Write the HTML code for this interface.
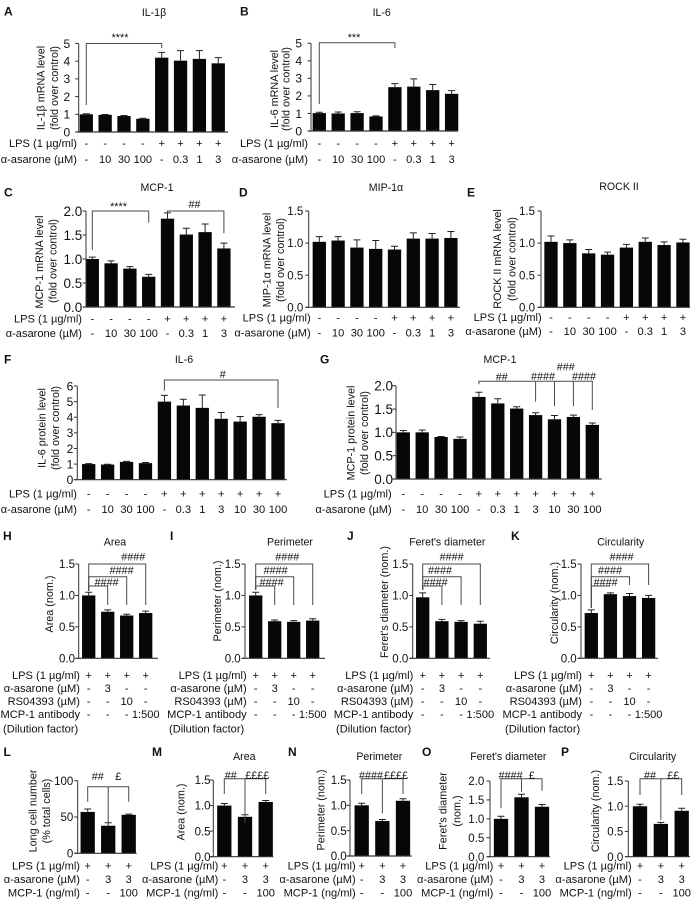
<!DOCTYPE html>
<html lang="en">
<head>
<meta charset="utf-8">
<title>Figure panels</title>
<style>
html,body{margin:0;padding:0;background:#fff;}
svg{display:block;font-family:"Liberation Sans",sans-serif;filter:blur(0.35px);}
text{fill:#111;}
</style>
</head>
<body>
<svg id="figure" width="695" height="902" viewBox="0 0 695 902" xmlns="http://www.w3.org/2000/svg"></svg>
<script>
// Category rows
const lps8 = ['-','-','-','-','+','+','+','+'];
const asarone8 = ['-','10','30','100','-','0.3','1','3'];
const lps11 = ['-','-','-','-','+','+','+','+','+','+','+'];
const asarone11 = ['-','10','30','100','-','0.3','1','3','10','30','100'];
const lps4 = ['+','+','+','+'];
const asarone4 = ['-','3','-','-'];
const rs4 = ['-','-','10','-'];
const antibody4 = ['-','-','-','1:500'];
const lps3 = ['+','+','+'];
const asarone3 = ['-','3','3'];
const mcp3 = ['-','-','100'];

// Tick values and labels
const ticks5 = [0,1,2,3,4,5];
const ticks6 = [0,1,2,3,4,5,6];
const ticks100 = [0,50,100];
const ticks15 = [0,0.5,1,1.5];
const ticks20 = [0,0.5,1,1.5,2];
const labels5 = ['0','1','2','3','4','5'];
const labels6 = ['0','1','2','3','4','5','6'];
const labels100 = ['0','50','100'];
const labels15 = ['0.0','0.5','1.0','1.5'];
const labels20 = ['0.0','0.5','1.0','1.5','2.0'];

// Series values and errors
const aValues = [1.0,0.97,0.9,0.75,4.2,4.03,4.13,3.88];
const aErrors = [0.03,0.02,0.03,0.03,0.3,0.57,0.47,0.32];
const bValues = [1.02,1.0,1.02,0.83,2.5,2.53,2.33,2.12];
const bErrors = [0.05,0.08,0.08,0.03,0.2,0.44,0.32,0.18];
const cValues = [1.0,0.91,0.8,0.63,1.84,1.51,1.56,1.22];
const cErrors = [0.04,0.05,0.04,0.05,0.12,0.13,0.17,0.11];
const dValues = [1.02,1.04,0.93,0.91,0.9,1.07,1.07,1.08];
const dErrors = [0.08,0.06,0.12,0.13,0.05,0.09,0.08,0.1];
const eValues = [1.02,1.0,0.84,0.82,0.93,1.02,0.97,1.01];
const eErrors = [0.09,0.05,0.06,0.04,0.05,0.06,0.05,0.05];
const fValues = [1.0,0.97,1.14,1.06,5.0,4.75,4.6,3.9,3.72,4.03,3.62];
const fErrors = [0.03,0.02,0.03,0.04,0.4,0.4,0.82,0.4,0.33,0.14,0.18];
const gValues = [1.0,1.0,0.9,0.86,1.76,1.62,1.51,1.37,1.28,1.33,1.16];
const gErrors = [0.04,0.05,0.01,0.04,0.1,0.1,0.04,0.05,0.08,0.04,0.04];
const hValues = [1.0,0.74,0.68,0.72];
const hErrors = [0.05,0.03,0.02,0.03];
const iValues = [1.0,0.59,0.58,0.6];
const iErrors = [0.05,0.02,0.02,0.03];
const jValues = [0.97,0.59,0.58,0.55];
const jErrors = [0.07,0.03,0.02,0.04];
const kValues = [0.72,1.02,0.99,0.96];
const kErrors = [0.05,0.02,0.04,0.04];
const lValues = [57,38,53];
const lErrors = [4,4,1];
const mValues = [1.0,0.78,1.07];
const mErrors = [0.04,0.04,0.03];
const nValues = [1.0,0.69,1.09];
const nErrors = [0.04,0.03,0.04];
const oValues = [1.0,1.57,1.32];
const oErrors = [0.07,0.08,0.06];
const pValues = [1.0,0.65,0.91];
const pErrors = [0.04,0.03,0.05];

const NS = 'http://www.w3.org/2000/svg';
const root = document.getElementById('figure');

function mk(tag, parent, attrs) {
  const el = document.createElementNS(NS, tag);
  for (const k in attrs) el.setAttribute(k, attrs[k]);
  parent.appendChild(el);
  return el;
}
function txt(parent, x, cy, str, anchor, size, weight) {
  const el = mk('text', parent, {x: x, y: cy + size * 0.36, 'text-anchor': anchor, 'font-size': size});
  if (weight) el.setAttribute('font-weight', weight);
  el.textContent = str;
  return el;
}
function vtxt(parent, cx, cy, str, size) {
  const el = mk('text', parent, {x: 0, y: 0, 'text-anchor': 'middle', 'font-size': size, transform: 'translate(' + (cx + size * 0.36) + ' ' + cy + ') rotate(-90)'});
  el.textContent = str;
  return el;
}
function line(parent, x1, y1, x2, y2, color, w) {
  return mk('line', parent, {x1: x1, y1: y1, x2: x2, y2: y2, stroke: color, 'stroke-width': w});
}

function panel(c) {
  const g = mk('g', root, {});
  
  

  const yScale = v => c.yBase - (v / c.yMax) * (c.yBase - c.yTop);
  const xScale = i => c.c0 + i * c.pitch;
  const barW = c.barW || 13.3;
  const tickSize = c.tickSize || 12;
  const tickGap = c.tickGap || 4.5;

  const letter = txt(g, c.lx, c.ly, c.id, 'start', 12, 'bold');
  
  

  if (c.title) {
    const title = txt(g, c.tx, c.ty, c.title, 'middle', 10.6);
    
    
  }

  c.yTitle.forEach(function (t) {
    const yt = vtxt(g, t.x, t.y, t.s, 10.8);
    
    
  });

  c.values.forEach(function (v, i) {
    const bar = mk('rect', g, {x: xScale(i) - barW / 2, y: yScale(v), width: barW, height: c.yBase - yScale(v), fill: '#070707'});
    
    
    const top = yScale(v + c.errors[i]);
    const eb = mk('path', g, {d: 'M' + xScale(i) + ' ' + yScale(v) + 'V' + top + 'M' + (xScale(i) - 3.5) + ' ' + top + 'H' + (xScale(i) + 3.5), stroke: '#222', 'stroke-width': 1, fill: 'none'});
    
    
  });

  const yAxis = line(g, c.x0, c.yTop, c.x0, c.yBase, '#333', 1);
  
  
  const xAxis = line(g, c.x0 - 3, c.yBase, c.xEnd, c.yBase, '#333', 1.2);
  
  

  c.ticks.forEach(function (t, i) {
    const tm = line(g, c.x0 - 3.5, yScale(t), c.x0, yScale(t), '#333', 1);
    
    
    const tl = txt(g, c.x0 - tickGap, yScale(t), c.tickLabels[i], 'end', tickSize);
    
    
  });

  c.rows.forEach(function (r) {
    const rl = txt(g, c.rowX, r.y, r.label, 'end', 11.1);
    
    
    r.vals.forEach(function (s, i) {
      const rv = txt(g, xScale(i), r.y, s, 'middle', 11.1);
      
      
    });
  });
  if (c.note) {
    const nt = txt(g, c.note.x, c.note.y, c.note.s, 'start', 11.1);
    
    
  }

  (c.brackets || []).forEach(function (b) {
    const xa = xScale(b.a), xb = xScale(b.b);
    let d = 'M' + xa + ' ' + b.ya + 'V' + b.y + 'H' + xb;
    if (b.yb) d += 'V' + b.yb;
    (b.drops || []).forEach(function (dr) {
      d += 'M' + xScale(dr.i) + ' ' + b.y + 'V' + dr.y;
    });
    const br = mk('path', g, {d: d, fill: 'none', stroke: '#4a4a4a', 'stroke-width': 1});
    
    
  });

  (c.sig || []).forEach(function (s) {
    const st = txt(g, s.x, s.y, s.s, 'middle', 10.8);
    
    
  });
}

const L8 = 'LPS (1 µg/ml)';
const AS = 'α-asarone (µM)';

panel({id:'A',title:'IL-1β',tx:154,ty:12,lx:4,ly:11,x0:78.7,xEnd:228,yTop:43.5,yBase:132,c0:86.3,pitch:18.85,yMax:5,tickSize:12,tickGap:8.5,
  values:aValues,errors:aErrors,ticks:ticks5,tickLabels:labels5,rowX:77,
  yTitle:[{s:'IL-1β mRNA level',x:40.7,y:88},{s:'(fold over control)',x:54,y:88}],
  rows:[{label:L8,vals:lps8,y:143},{label:AS,vals:asarone8,y:159}],
  brackets:[{a:0,b:4,y:43.5,ya:105,yb:48}],sig:[{s:'****',x:120,y:37}]});

panel({id:'B',title:'IL-6',tx:381.7,ty:12,lx:240,ly:11,x0:311,xEnd:458,yTop:43.3,yBase:131,c0:319.3,pitch:18.9,yMax:5,tickSize:12,tickGap:9,
  values:bValues,errors:bErrors,ticks:ticks5,tickLabels:labels5,rowX:308,
  yTitle:[{s:'IL-6 mRNA level',x:274,y:89},{s:'(fold over control)',x:285.7,y:89}],
  rows:[{label:L8,vals:lps8,y:143},{label:AS,vals:asarone8,y:159}],
  brackets:[{a:0,b:4,y:42.7,ya:104,yb:48}],sig:[{s:'***',x:354,y:37}]});

panel({id:'C',title:'MCP-1',tx:157,ty:187,lx:4,ly:192,x0:86,xEnd:235,yTop:211,yBase:307,c0:92.3,pitch:18.8,yMax:2,tickSize:13.5,tickGap:3.7,
  values:cValues,errors:cErrors,ticks:ticks20,tickLabels:labels20,rowX:82,
  yTitle:[{s:'MCP-1 mRNA level',x:39.3,y:262},{s:'(fold over control)',x:52.7,y:261}],
  rows:[{label:L8,vals:lps8,y:318.7},{label:AS,vals:asarone8,y:333}],
  brackets:[{a:0,b:3,y:211,ya:250,yb:222.7},{a:4,b:7,y:211,ya:212.3,yb:233.3}],
  sig:[{s:'****',x:118.5,y:206},{s:'##',x:194.5,y:204}]});

panel({id:'D',title:'MIP-1α',tx:386,ty:187,lx:239,ly:192,x0:308.7,xEnd:460,yTop:211,yBase:307.3,c0:319.3,pitch:18.8,yMax:1.5,tickSize:11.5,tickGap:5.4,
  values:dValues,errors:dErrors,ticks:ticks15,tickLabels:labels15,rowX:310.7,
  yTitle:[{s:'MIP-1α mRNA level',x:266.7,y:260},{s:'(fold over control)',x:280,y:260}],
  rows:[{label:L8,vals:lps8,y:317.7},{label:AS,vals:asarone8,y:332.7}]});

panel({id:'E',title:'ROCK II',tx:619,ty:186,lx:467,ly:192,x0:541,xEnd:690,yTop:211,yBase:307.3,c0:551,pitch:18.85,yMax:1.5,tickSize:11.5,tickGap:6,
  values:eValues,errors:eErrors,ticks:ticks15,tickLabels:labels15,rowX:541.7,
  yTitle:[{s:'ROCK II mRNA level',x:497.3,y:259},{s:'(fold over control)',x:511.7,y:259}],
  rows:[{label:L8,vals:lps8,y:317},{label:AS,vals:asarone8,y:331}]});

panel({id:'F',title:'IL-6',tx:184,ty:359,lx:4,ly:359,x0:77.3,xEnd:287,yTop:386,yBase:479.7,c0:88.7,pitch:18.93,yMax:6,tickSize:12,tickGap:4,
  values:fValues,errors:fErrors,ticks:ticks6,tickLabels:labels6,rowX:77,
  yTitle:[{s:'IL-6 protein level',x:41.7,y:428},{s:'(fold over control)',x:55,y:428}],
  rows:[{label:L8,vals:lps11,y:493.7},{label:AS,vals:asarone11,y:509}],
  brackets:[{a:4,b:10,y:380,ya:390.7,yb:408}],sig:[{s:'#',x:222.7,y:374}]});

panel({id:'G',title:'MCP-1',tx:500,ty:359,lx:320,ly:359,x0:396,xEnd:601.7,yTop:385.7,yBase:479,c0:403.3,pitch:18.9,yMax:2,tickSize:13.5,tickGap:3,
  values:gValues,errors:gErrors,ticks:ticks20,tickLabels:labels20,rowX:391.7,
  yTitle:[{s:'MCP-1 protein level',x:350.7,y:433},{s:'(fold over control)',x:364.3,y:433}],
  rows:[{label:L8,vals:lps11,y:493.7},{label:AS,vals:asarone11,y:509}],
  brackets:[{a:4,b:10,y:381.3,ya:384.3,yb:410,drops:[{i:7,y:401.7},{i:8,y:406},{i:9,y:406}]}],
  sig:[{s:'##',x:501.7,y:376.5},{s:'####',x:543,y:376},{s:'###',x:565.7,y:366.7},{s:'####',x:584,y:376}]});

const ROWS4 = () => [{label:L8,vals:lps4,y:675},{label:AS,vals:asarone4,y:688},{label:'RS04393 (µM)',vals:rs4,y:701},{label:'MCP-1 antibody',vals:antibody4,y:714}];

panel({id:'H',title:'Area',tx:115,ty:541.7,lx:3,ly:535.7,x0:78.7,xEnd:158,yTop:564,yBase:658.3,c0:88.7,pitch:19,yMax:1.5,tickSize:11.5,tickGap:3.7,
  values:hValues,errors:hErrors,ticks:ticks15,tickLabels:labels15,rowX:80,
  yTitle:[{s:'Area (nom.)',x:49.3,y:604}],rows:ROWS4(),note:{s:'(Dilution factor)',x:3,y:728.7},
  brackets:[{a:0,b:3,y:564,ya:591,yb:605},{a:0,b:2,y:576.7,ya:591,yb:605},{a:0,b:1,y:586,ya:591,yb:605}],
  sig:[{s:'####',x:133.3,y:556.7},{s:'####',x:121.7,y:570},{s:'####',x:106.7,y:582.3}]});

panel({id:'I',title:'Perimeter',tx:290,ty:541.7,lx:170,ly:535.7,x0:245,xEnd:325,yTop:564,yBase:658.3,c0:255.7,pitch:19,yMax:1.5,tickSize:11.5,tickGap:4.3,
  values:iValues,errors:iErrors,ticks:ticks15,tickLabels:labels15,rowX:246.7,
  yTitle:[{s:'Perimeter (nom.)',x:217.3,y:601}],rows:ROWS4(),note:{s:'(Dilution factor)',x:169,y:728.7},
  brackets:[{a:0,b:3,y:564,ya:590,yb:605},{a:0,b:2,y:576.7,ya:590,yb:605},{a:0,b:1,y:586,ya:590,yb:605}],
  sig:[{s:'####',x:287.3,y:556.7},{s:'####',x:275.7,y:570},{s:'####',x:271.7,y:582.3}]});

panel({id:'J',title:"Feret's diameter",tx:447.3,ty:541.7,lx:347,ly:535.7,x0:412.7,xEnd:490,yTop:564,yBase:658.3,c0:422.7,pitch:19.2,yMax:1.5,tickSize:11.5,tickGap:4.4,
  values:jValues,errors:jErrors,ticks:ticks15,tickLabels:labels15,rowX:413.3,
  yTitle:[{s:"Feret's diameter (nom.)",x:384.3,y:602}],rows:ROWS4(),note:{s:'(Dilution factor)',x:336,y:728.7},
  brackets:[{a:0,b:3,y:564,ya:590,yb:605},{a:0,b:2,y:576.7,ya:590,yb:605},{a:0,b:1,y:586,ya:590,yb:605}],
  sig:[{s:'####',x:451.7,y:556.7},{s:'####',x:440,y:570},{s:'####',x:435.7,y:582.3}]});

panel({id:'K',title:'Circularity',tx:620.7,ty:541.7,lx:511,ly:535.7,x0:581,xEnd:658,yTop:564,yBase:658.3,c0:591.3,pitch:19.1,yMax:1.5,tickSize:11.5,tickGap:4.3,
  values:kValues,errors:kErrors,ticks:ticks15,tickLabels:labels15,rowX:582,
  yTitle:[{s:'Circularity (nom.)',x:554.3,y:603}],rows:ROWS4(),note:{s:'(Dilution factor)',x:505,y:728.7},
  brackets:[{a:0,b:3,y:564,ya:608,yb:585},{a:0,b:2,y:576.7,ya:608,yb:585},{a:0,b:1,y:586,ya:608}],
  sig:[{s:'####',x:621.7,y:556.7},{s:'####',x:610,y:570},{s:'####',x:605.7,y:582.3}]});

const ROWS3 = () => [{label:L8,vals:lps3,y:865.7},{label:AS,vals:asarone3,y:879},{label:'MCP-1 (ng/ml)',vals:mcp3,y:892.3}];

panel({id:'L',lx:3.5,ly:751.7,x0:77.7,xEnd:136.7,yTop:780.7,yBase:853.3,c0:87.7,pitch:20.5,barW:14.3,yMax:100,tickSize:11.5,tickGap:4.4,
  values:lValues,errors:lErrors,ticks:ticks100,tickLabels:labels100,rowX:80,
  yTitle:[{s:'Long cell number',x:32.7,y:811},{s:'(% total cells)',x:46,y:811}],rows:ROWS3(),
  brackets:[{a:0,b:2,y:786.7,ya:801.7,yb:801.7,drops:[{i:1,y:823.3}]}],
  sig:[{s:'##',x:97.7,y:776},{s:'£',x:118.3,y:776}]});

panel({id:'M',title:'Area',tx:244.3,ty:756,lx:152,ly:751.7,x0:213.3,xEnd:273.3,yTop:780,yBase:856.7,c0:224.3,pitch:20.7,barW:14.3,yMax:1.5,tickSize:11.5,tickGap:2.7,
  values:mValues,errors:mErrors,ticks:ticks15,tickLabels:labels15,rowX:218.3,
  yTitle:[{s:'Area (nom.)',x:180.7,y:812}],rows:ROWS3(),
  brackets:[{a:0,b:2,y:778.7,ya:794,yb:794,drops:[{i:1,y:823.3}]}],
  sig:[{s:'##',x:230.7,y:775},{s:'££££',x:257.3,y:775}]});

panel({id:'N',title:'Perimeter',tx:379.3,ty:756,lx:288,ly:751.7,x0:350,xEnd:411.7,yTop:780,yBase:856,c0:361.7,pitch:20.65,barW:14.3,yMax:1.5,tickSize:11.5,tickGap:3.3,
  values:nValues,errors:nErrors,ticks:ticks15,tickLabels:labels15,rowX:355.7,
  yTitle:[{s:'Perimeter (nom.)',x:320.7,y:810}],rows:ROWS3(),
  brackets:[{a:0,b:2,y:778.7,ya:794,yb:794,drops:[{i:1,y:813.3}]}],
  sig:[{s:'####',x:371,y:775},{s:'££££',x:396,y:775}]});

panel({id:'O',title:"Feret's diameter",tx:508.3,ty:756,lx:422,ly:751.7,x0:490,xEnd:550,yTop:781,yBase:856.7,c0:501,pitch:20.5,barW:14.3,yMax:2,tickSize:11.5,tickGap:5.7,
  values:oValues,errors:oErrors,ticks:ticks20,tickLabels:labels20,rowX:493.3,
  yTitle:[{s:"Feret's diameter",x:442.7,y:811},{s:'(nom.)',x:456.7,y:811}],rows:ROWS3(),
  brackets:[{a:0,b:2,y:778.7,ya:808.3,yb:790.7,drops:[{i:1,y:791.7}]}],
  sig:[{s:'####',x:510.7,y:775},{s:'£',x:531.7,y:775}]});

panel({id:'P',title:'Circularity',tx:652.7,ty:756,lx:561,ly:751.7,x0:628.3,xEnd:690,yTop:781,yBase:856.7,c0:640,pitch:20.85,barW:14.3,yMax:1.5,tickSize:11.5,tickGap:5,
  values:pValues,errors:pErrors,ticks:ticks15,tickLabels:labels15,rowX:631.7,
  yTitle:[{s:'Circularity (nom.)',x:595,y:811}],rows:ROWS3(),
  brackets:[{a:0,b:2,y:778.7,ya:795,yb:795,drops:[{i:1,y:820}]}],
  sig:[{s:'##',x:650,y:775},{s:'££',x:673.3,y:775}]});
</script>
</body>
</html>
